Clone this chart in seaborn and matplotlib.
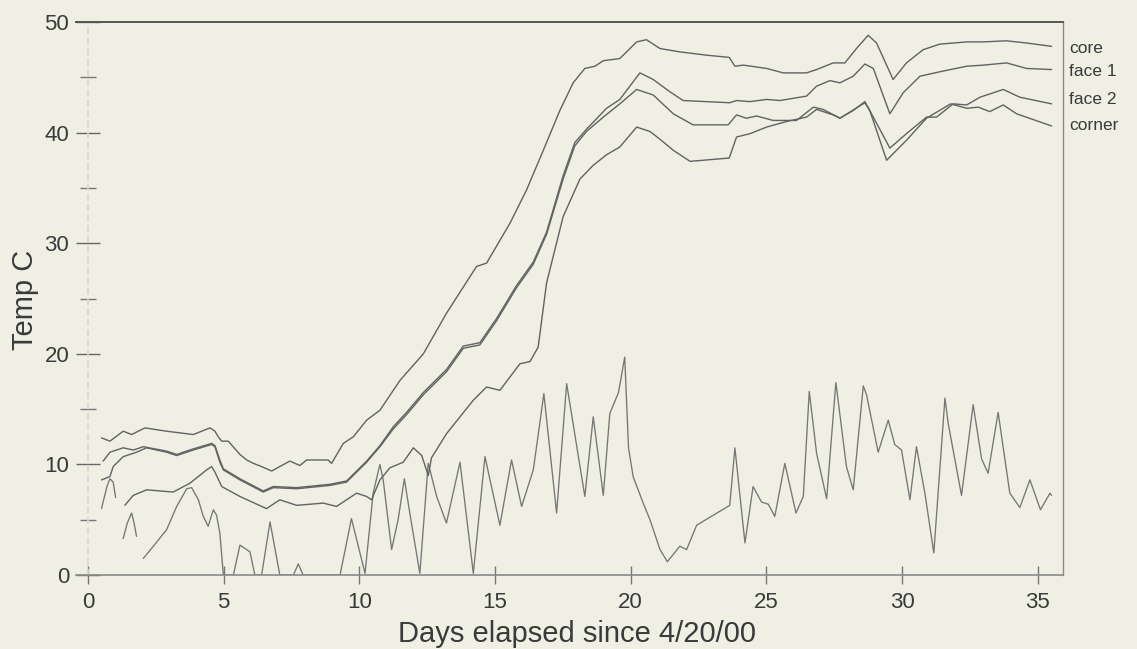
import numpy as np
import pandas as pd
import matplotlib
matplotlib.use("Agg")
import matplotlib.pyplot as plt
from matplotlib.ticker import MultipleLocator
import seaborn as sns

# ==========================================================
# DATA
# ==========================================================
core_day = [0.50, 0.81, 1.30, 1.61, 2.10, 2.90, 3.88, 4.50, 4.68, 4.80, 4.93, 5.17,
            5.60, 5.85, 6.09, 6.40, 6.77, 7.14, 7.44, 7.81, 8.06, 8.85, 8.98, 9.41,
            9.78, 10.27, 10.76, 11.50, 12.36, 13.22, 14.32, 14.69, 15.55, 16.16, 16.78,
            17.39, 17.88, 18.31, 18.68, 18.99, 19.60, 20.22, 20.58, 21.08, 21.81, 22.80,
            23.63, 23.84, 24.15, 25.01, 25.62, 26.48, 26.85, 27.46, 27.89, 28.32, 28.75,
            29.06, 29.67, 30.16, 30.78, 31.39, 32.38, 32.99, 33.85, 34.59, 35.51]
core_temp = [12.4, 12.1, 13.0, 12.7, 13.3, 13.0, 12.7, 13.3, 13.0, 12.5, 12.1, 12.1,
             10.9, 10.4, 10.1, 9.8, 9.4, 9.9, 10.3, 9.9, 10.4, 10.4, 10.1, 11.9,
             12.5, 14.0, 14.9, 17.6, 20.0, 23.7, 27.9, 28.2, 31.8, 34.8, 38.4,
             42.0, 44.5, 45.8, 46.0, 46.5, 46.7, 48.2, 48.4, 47.6, 47.3, 47.0,
             46.8, 46.0, 46.1, 45.8, 45.4, 45.4, 45.7, 46.3, 46.3, 47.6, 48.8,
             48.1, 44.8, 46.3, 47.5, 48.0, 48.2, 48.2, 48.3, 48.1, 47.8]

face1_day = [0.56, 0.81, 1.30, 1.67, 2.04, 2.90, 3.27, 3.88, 4.56, 4.68, 4.86, 4.99,
             5.60, 6.46, 6.83, 7.69, 8.92, 9.53, 10.27, 10.76, 11.25, 11.74, 12.36,
             13.22, 13.83, 14.44, 15.06, 15.80, 16.41, 16.90, 17.51, 17.94, 18.37,
             19.11, 19.60, 20.34, 20.83, 21.44, 21.93, 22.79, 23.65, 23.90, 24.39,
             25.01, 25.50, 26.48, 26.85, 27.34, 27.71, 28.20, 28.63, 28.94, 29.55,
             30.04, 30.66, 31.39, 32.38, 32.99, 33.85, 34.59, 35.51]
face1_temp = [10.3, 11.1, 11.5, 11.3, 11.6, 11.2, 10.9, 11.4, 11.9, 11.7, 10.4, 9.6,
              8.7, 7.6, 8.0, 7.9, 8.2, 8.5, 10.3, 11.7, 13.4, 14.7, 16.5,
              18.6, 20.7, 21.0, 23.2, 26.2, 28.3, 31.0, 36.1, 39.1, 40.3,
              42.2, 43.0, 45.4, 44.8, 43.7, 42.9, 42.8, 42.7, 42.9, 42.8,
              43.0, 42.9, 43.3, 44.2, 44.7, 44.5, 45.1, 46.2, 45.8, 41.7,
              43.6, 45.1, 45.5, 46.0, 46.1, 46.3, 45.8, 45.7]

face2_day = [0.50, 0.81, 0.93, 1.30, 1.79, 2.16, 2.90, 3.27, 3.88, 4.56, 4.68, 4.86,
             4.99, 5.60, 6.46, 6.83, 7.69, 8.92, 9.53, 10.27, 10.76, 11.25, 11.74,
             12.36, 13.22, 13.83, 14.44, 15.06, 15.80, 16.41, 16.90, 17.51, 17.94,
             18.37, 18.99, 19.60, 20.22, 20.83, 21.57, 22.30, 23.59, 23.90, 24.26,
             24.64, 25.25, 26.11, 26.73, 27.09, 27.71, 28.20, 28.63, 28.94, 29.55,
             30.16, 30.90, 31.27, 31.88, 32.38, 32.87, 33.73, 34.34, 35.51]
face2_temp = [8.6, 8.9, 9.8, 10.7, 11.1, 11.5, 11.1, 10.8, 11.3, 11.8, 11.6, 10.2,
              9.5, 8.6, 7.5, 7.9, 7.8, 8.1, 8.4, 10.2, 11.6, 13.2, 14.5,
              16.3, 18.4, 20.5, 20.8, 23.0, 26.0, 28.1, 30.8, 35.8, 38.8,
              40.1, 41.4, 42.6, 43.9, 43.4, 41.7, 40.7, 40.7, 41.6, 41.3,
              41.5, 41.1, 41.1, 42.3, 42.1, 41.3, 42.0, 42.8, 41.4, 38.6,
              39.9, 41.4, 41.4, 42.6, 42.5, 43.2, 43.9, 43.2, 42.6]

corner_day = [1.36, 1.67, 2.16, 3.14, 3.76, 4.37, 4.56, 4.68, 4.93, 5.60, 6.58, 7.07,
              7.69, 8.67, 9.16, 9.90, 10.27, 10.45, 10.76, 11.13, 11.62, 11.99, 12.30,
              12.54, 12.66, 13.22, 13.71, 14.20, 14.69, 15.18, 15.92, 16.29, 16.59,
              16.90, 17.51, 18.13, 18.60, 19.11, 19.60, 20.22, 20.71, 21.08, 21.57,
              22.19, 23.63, 23.90, 24.39, 25.01, 25.74, 26.48, 26.85, 27.46, 27.71,
              28.63, 28.81, 29.43, 30.16, 30.90, 31.79, 32.38, 32.81, 33.23, 33.73,
              34.22, 35.51]
corner_temp = [6.3, 7.2, 7.7, 7.5, 8.3, 9.5, 9.8, 9.3, 8.0, 7.1, 6.0, 6.8,
               6.3, 6.5, 6.2, 7.4, 7.1, 6.8, 8.6, 9.7, 10.2, 11.5, 10.8,
               9.0, 10.6, 12.8, 14.3, 15.8, 17.0, 16.7, 19.1, 19.3, 20.6,
               26.4, 32.4, 35.8, 37.0, 38.0, 38.7, 40.5, 40.1, 39.4, 38.4,
               37.4, 37.7, 39.6, 39.9, 40.5, 41.0, 41.4, 42.1, 41.6, 41.3,
               42.7, 42.0, 37.5, 39.3, 41.3, 42.6, 42.2, 42.3, 41.9, 42.5,
               41.7, 40.6]

# ambient air, drawn in three pieces (gaps in the record)
amb1_day = [0.50, 0.70, 0.81, 0.93, 1.02]
amb1_temp = [6.0, 8.0, 8.7, 8.4, 7.0]
amb2_day = [1.30, 1.45, 1.61, 1.70, 1.79]
amb2_temp = [3.3, 4.7, 5.6, 4.7, 3.5]
amb3_day = [2.04, 2.41, 2.90, 3.27, 3.64, 3.82, 4.07, 4.25, 4.43, 4.62, 4.74, 4.86,
            4.99, 5.36, 5.60, 5.97, 6.15, 6.40, 6.71, 7.07, 7.57, 7.75, 7.93, 9.29,
            9.71, 10.21, 10.51, 10.76, 10.88, 11.19, 11.43, 11.66, 11.86, 12.23,
            12.54, 12.85, 13.21, 13.71, 14.20, 14.63, 15.18, 15.61, 15.98, 16.41,
            16.65, 16.80, 17.27, 17.64, 18.31, 18.62, 18.99, 19.23, 19.55, 19.78,
            19.92, 20.09, 20.46, 20.71, 21.08, 21.35, 21.81, 22.06, 22.43, 23.65,
            23.84, 24.21, 24.51, 24.82, 25.07, 25.31, 25.68, 26.09, 26.36, 26.58,
            26.85, 27.22, 27.56, 27.95, 28.20, 28.57, 28.69, 29.12, 29.49, 29.73,
            29.98, 30.29, 30.53, 30.84, 31.17, 31.58, 31.70, 32.19, 32.62, 32.93,
            33.17, 33.54, 33.97, 34.34, 34.71, 35.10, 35.45, 35.51]
amb3_temp = [1.5, 2.6, 4.1, 6.2, 7.8, 7.9, 6.8, 5.3, 4.4, 5.9, 5.4, 3.8,
             0.0, 0.0, 2.7, 2.1, 0.0, 0.0, 4.8, 0.0, 0.0, 1.0, 0.0, 0.0,
             5.1, 0.15, 7.4, 10.0, 8.6, 2.3, 5.0, 8.7, 5.6, 0.15,
             10.1, 7.1, 4.7, 10.2, 0.15, 10.7, 4.5, 10.4, 6.2, 9.5,
             13.7, 16.4, 5.6, 17.3, 7.1, 14.3, 7.2, 14.6, 16.5, 19.7,
             11.5, 8.9, 6.5, 5.0, 2.3, 1.2, 2.6, 2.3, 4.5, 6.3,
             11.5, 2.9, 8.0, 6.6, 6.4, 5.3, 10.1, 5.6, 7.1, 16.6,
             11.0, 6.9, 17.4, 9.8, 7.7, 17.1, 16.3, 11.1, 14.0, 11.8,
             11.3, 6.8, 11.6, 7.4, 2.0, 16.0, 13.7, 7.2, 15.4, 10.5,
             9.2, 14.7, 7.4, 6.1, 8.6, 5.9, 7.4, 7.2]

series_labels = ["core", "face 1", "face 2", "corner"]
label_y = [47.6, 45.5, 43.0, 40.6]

# ==========================================================
# LONG TABLE
# ==========================================================
probes = [
    ("core", core_day, core_temp),
    ("face 1", face1_day, face1_temp),
    ("face 2", face2_day, face2_temp),
    ("corner", corner_day, corner_temp),
]
ambient = [
    ("ambient a", amb1_day, amb1_temp),
    ("ambient b", amb2_day, amb2_temp),
    ("ambient c", amb3_day, amb3_temp),
]

def to_frame(pieces):
    return pd.concat(
        [pd.DataFrame({"day": d, "temp": t, "seg": name}) for name, d, t in pieces],
        ignore_index=True,
    )

df_probe = to_frame(probes)
df_amb = to_frame(ambient)

# ==========================================================
# STYLE
# ==========================================================
BG = "#efefe3"
INK = "#3a3a3a"

sns.set_theme(style="white")
plt.rcParams["font.family"] = ["Liberation Sans", "DejaVu Sans"]

fig = plt.figure(figsize=(11.37, 6.49), dpi=100, facecolor=BG)
ax = fig.add_axes([76 / 1137, 1 - 575 / 649, 987 / 1137, 553 / 649])
ax.set_facecolor(BG)

sns.lineplot(data=df_amb, x="day", y="temp", units="seg", estimator=None, sort=False,
             color="#767676", linewidth=0.95, ax=ax, legend=False)
sns.lineplot(data=df_probe, x="day", y="temp", units="seg", estimator=None, sort=False,
             color="#626262", linewidth=1.0, ax=ax, legend=False)

ax.set_xlim(-0.44, 35.93)
ax.set_ylim(0, 50)

# spines
ax.spines["left"].set_position(("data", 0))
ax.spines["left"].set_color("#d8d8cc")
ax.spines["left"].set_linestyle((0, (3, 3)))
ax.spines["top"].set_color("#555555")
ax.spines["top"].set_linewidth(1.4)
ax.spines["bottom"].set_color("#8a8a8a")
ax.spines["bottom"].set_linewidth(1.2)
ax.spines["right"].set_color("#8a8a8a")
ax.spines["right"].set_linewidth(1.0)

# ticks
ax.xaxis.set_major_locator(MultipleLocator(5))
ax.yaxis.set_major_locator(MultipleLocator(10))
ax.yaxis.set_minor_locator(MultipleLocator(5))
ax.tick_params(axis="x", which="major", direction="inout", length=13, width=1,
               color="#777777", labelsize=16, labelcolor=INK, pad=6,
               bottom=True, top=False)
ax.tick_params(axis="y", which="major", direction="inout", length=17, width=1,
               color="#666666", labelsize=16, labelcolor=INK, pad=5,
               left=True, right=False)
ax.tick_params(axis="y", which="minor", direction="inout", length=12, width=1,
               color="#777777", left=True, right=False)

# axis labels
ax.set_xlabel("Days elapsed since 4/20/00", fontsize=21, color=INK)
ax.xaxis.set_label_coords(0.508, -0.081)
ax.xaxis.label.set_va("top")
ax.set_ylabel("Temp C", fontsize=21, color=INK)
ax.yaxis.set_label_coords(-0.052, 0.497)
ax.yaxis.label.set_va("center")

# series names at the right edge
for name, y in zip(series_labels, label_y):
    ax.text(36.15, y, name, fontsize=12.5, color=INK, va="center", ha="left",
            clip_on=False)

fig.savefig("out.png", dpi=100, facecolor=BG)
